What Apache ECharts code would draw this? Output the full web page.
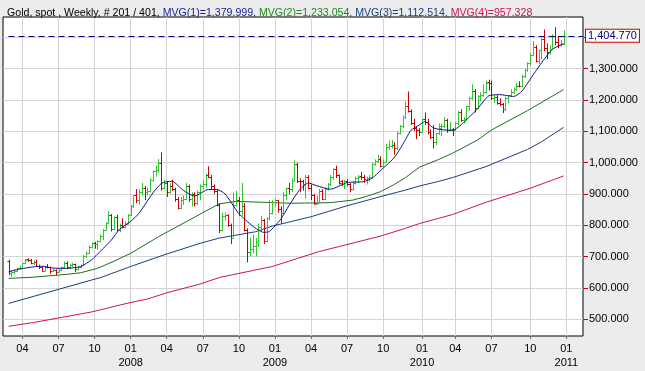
<!DOCTYPE html>
<html><head><meta charset="utf-8">
<script src="https://cdn.jsdelivr.net/npm/echarts@6/dist/echarts.min.js"></script>
<style>html,body{margin:0;padding:0;background:#ececec}#c{width:645px;height:371px}</style>
</head><body><div id="c"></div>
<script>
// Weekly OHLC, gold spot, first bar week of 2007-02-26
const opens = [
686,646,652,655,662,663,678,691,688,680,
683,670,665,655,667,665,654,656,650,658,
665,680,665,672,675,660,668,673,700,712,
730,743,740,750,765,785,806,833,787,825,
785,800,795,805,834,860,895,880,905,920,
905,910,945,972,975,1000,920,935,905,925,
915,885,855,880,885,925,885,900,870,905,
925,930,960,955,925,910,865,785,828,832,
800,760,865,880,845,860,785,715,725,735,
745,795,815,750,823,840,875,880,853,840,
897,920,915,940,995,942,940,930,955,920,
897,868,872,910,885,915,930,955,980,960,
940,932,940,930,915,935,950,957,954,948,
952,955,995,1006,1010,990,1003,1050,1052,1057,
1045,1095,1118,1145,1180,1165,1125,1110,1105,1097,
1138,1131,1097,1083,1065,1093,1110,1118,1135,1103,
1108,1104,1125,1160,1135,1140,1180,1205,1230,1175,
1212,1215,1225,1258,1254,1207,1210,1190,1188,1170,
1205,1215,1227,1235,1246,1245,1275,1296,1318,1345,
1370,1325,1358,1395,1366,1352,1362,1405,1385,1377,
1380];
const highs = [
690,657,660,665,670,680,692,694,692,688,
690,674,668,670,676,668,661,659,660,667,
684,685,675,680,677,670,675,705,716,735,
745,747,752,770,788,810,845,836,828,833,
805,822,812,836,865,895,915,915,935,925,
920,950,975,990,1011,1032,945,940,935,945,
920,890,890,895,935,930,905,905,910,930,
945,965,988,960,930,915,870,840,840,835,
805,905,910,890,935,870,790,760,770,760,
805,830,820,825,880,880,885,880,860,905,
920,935,950,1007,1000,950,945,960,960,930,
900,895,915,915,920,935,960,982,990,962,
945,945,947,935,940,955,960,970,960,955,
960,1000,1010,1025,1020,1010,1060,1070,1072,1065,
1100,1120,1150,1195,1227,1170,1140,1115,1110,1140,
1160,1140,1105,1120,1095,1125,1125,1145,1140,1130,
1110,1130,1165,1170,1145,1180,1210,1250,1235,1215,
1225,1250,1262,1265,1262,1215,1215,1205,1190,1210,
1215,1235,1240,1255,1260,1280,1300,1320,1350,1388,
1375,1360,1398,1425,1380,1375,1410,1432,1405,1392,
1422];
const lows = [
640,636,643,650,658,660,675,682,675,673,
668,660,652,653,662,645,650,640,648,655,
663,660,660,666,650,655,662,670,695,708,
725,725,722,745,752,783,803,780,785,780,
778,790,790,803,830,855,870,865,895,880,
895,905,940,955,968,910,915,890,900,910,
875,850,852,865,880,875,860,860,865,880,
915,920,950,915,900,860,775,780,815,795,
740,760,860,830,830,780,681,700,710,700,
730,780,740,745,815,835,860,840,805,835,
880,900,905,940,935,905,910,885,915,880,
865,865,870,880,880,910,925,945,950,930,
925,915,925,905,910,930,935,945,935,930,
940,950,990,1000,985,985,1000,1040,1045,1025,
1040,1090,1110,1140,1160,1120,1100,1075,1085,1095,
1120,1090,1075,1045,1055,1088,1085,1110,1095,1100,
1085,1100,1120,1130,1125,1135,1165,1200,1160,1170,
1195,1210,1220,1230,1200,1190,1185,1180,1158,1165,
1190,1210,1220,1230,1240,1240,1270,1290,1310,1340,
1320,1315,1330,1355,1330,1345,1360,1375,1365,1370,
1375];
const closes = [
646,652,655,662,663,678,690,688,680,683,
670,665,655,667,665,655,656,650,658,665,
680,665,672,675,660,668,673,700,712,730,
743,740,750,765,785,806,833,787,825,785,
800,795,805,834,860,895,880,905,920,905,
910,945,972,975,1000,920,935,905,925,915,
885,855,880,885,925,885,900,870,905,925,
930,960,955,925,910,865,785,830,832,800,
760,865,880,845,860,785,715,725,735,745,
795,815,750,823,840,875,880,853,840,897,
920,915,940,995,942,940,930,955,920,897,
870,872,910,885,915,930,955,980,960,935,
932,940,930,915,935,950,955,954,948,952,
955,995,1006,1010,990,1003,1050,1052,1057,1045,
1095,1118,1145,1180,1165,1125,1110,1105,1097,1138,
1131,1097,1083,1065,1093,1118,1118,1135,1103,1105,
1104,1125,1160,1135,1140,1180,1205,1230,1175,1212,
1215,1225,1255,1254,1207,1210,1190,1188,1170,1205,
1215,1227,1235,1246,1245,1275,1296,1318,1345,1370,
1325,1358,1395,1366,1352,1362,1405,1385,1377,1380,
1404.77];

// Moving averages: [bar index, value]
const mvg1 = [[0,651],[4,660],[9,667],[12,669],[16,663],[21,662],[26,668],[30,690],[33,716],[37,752],[40,787],[44,812],[47,838],[52,903],[55,933],[57,939],[59,940],[63,911],[67,893],[72,914],[75,914],[78,900],[83,837],[88,797],[92,777],[94,780],[98,818],[101,862],[105,914],[108,935],[111,926],[116,915],[122,936],[128,939],[131,950],[133,966],[139,1016],[142,1057],[145,1103],[148,1120],[150,1131],[153,1111],[156,1105],[160,1103],[164,1128],[169,1172],[173,1213],[177,1217],[182,1211],[185,1228],[189,1280],[193,1330],[196,1362],[200,1380]];
const mvg2 = [[0,630],[9,634],[21,643],[26,648],[32,662],[38,685],[44,710],[54,763],[64,811],[70,840],[74,859],[76,868],[82,876],[92,873],[102,870],[116,872],[124,880],[129,892],[134,907],[139,930],[143,952],[148,985],[155,1010],[160,1030],[169,1072],[174,1104],[187,1166],[200,1233]];
const mvg3 = [[0,550],[30,625],[33,632],[44,668],[56,705],[69,742],[76,759],[89,779],[95,797],[109,827],[122,862],[136,896],[143,912],[148,925],[155,940],[160,952],[172,987],[187,1042],[192,1066],[200,1112.5]];
const mvg4 = [[0,477],[9,489],[30,523],[43,551],[50,564],[57,584],[69,612],[76,633],[95,668],[112,716],[134,765],[143,790],[148,805],[155,822],[160,834],[172,873],[188,918],[200,957.3]];

const lastPrice = 1404.77;
const titleParts = ['Gold, spot , Weekly, # 201 / 401, ', 'MVG(1)=1,379.999, ', 'MVG(2)=1,233.054, ', 'MVG(3)=1,112.514, ', 'MVG(4)=957.328'];
const yTicks = [500,600,700,800,900,1000,1100,1200,1300,1400];
const yLabels = [500,600,700,800,900,1000,1100,1200,1300];

const colUp = '#33c433', colDown = '#c80000';
const colM1 = '#10108c', colM2 = '#1e6e1e', colM3 = '#1c3f7c', colM4 = '#cc1450';

// weekly category axis (2 empty weeks before, 7 after)
const lead = 2, trail = 7;
const startMs = Date.UTC(2007,1,12);
const categories = [];
for (let i = 0; i < lead + opens.length + trail; i++) {
  categories.push(new Date(startMs + i*7*864e5).toISOString().slice(0,10));
}
function quarterStart(s){
  const t = Date.parse(s), d = new Date(t);
  for (const off of [-1,0,1]) {
    const f = Date.UTC(d.getUTCFullYear(), d.getUTCMonth()+off, 1);
    const fd = new Date(f);
    if (fd.getUTCMonth()%3===0 && Math.abs(t-f) <= 3*864e5) return fd;
  }
  return null;
}
const isQ = (i, v) => quarterStart(v) !== null;
function fmtNum(v){
  const s = v.toFixed(3); const [a,b] = s.split('.');
  return a.replace(/\B(?=(\d{3})+(?!\d))/g, ',') + '.' + b;
}

const ohlc = opens.map((o,i) => [i+lead, o, highs[i], lows[i], closes[i]]);
const toLine = arr => arr.map(p => [categories[p[0]+lead], p[1]]);

const FONT = "'Liberation Sans', Arial, sans-serif";
const TF = 10.6;
const chart = echarts.init(document.getElementById('c'), null, {renderer:'canvas'});
chart.setOption({
  animation:false,
  backgroundColor:'#ececec',
  title:{
    left:2, top:3,
    text: '{a|'+titleParts[0]+'}{b|'+titleParts[1]+'}{c|'+titleParts[2]+'}{d|'+titleParts[3]+'}{e|'+titleParts[4]+'}',
    textStyle:{fontSize:TF, fontFamily:FONT, fontWeight:'normal',
      rich:{a:{color:'#000',fontSize:TF,fontFamily:FONT},b:{color:'#1a1aa0',fontSize:TF,fontFamily:FONT},
        c:{color:'#1e8a1e',fontSize:TF,fontFamily:FONT},d:{color:'#1c3f7c',fontSize:TF,fontFamily:FONT},
        e:{color:'#cc1450',fontSize:TF,fontFamily:FONT}}}
  },
  grid:{left:3, right:62, top:17, bottom:35, show:true, backgroundColor:'#fff', borderColor:'#000', borderWidth:1},
  xAxis:{
    type:'category', data:categories, boundaryGap:false,
    axisLine:{show:false},
    axisTick:{show:true, interval:isQ, length:3, lineStyle:{color:'#666'}},
    axisLabel:{interval:isQ, color:'#000', fontSize:11, fontFamily:FONT, margin:6, lineHeight:14,
      formatter:v => { const fd = quarterStart(v); const m = String(fd.getUTCMonth()+1).padStart(2,'0');
        return m==='01' ? m+'\n'+fd.getUTCFullYear() : m; }},
    splitLine:{show:true, interval:isQ, lineStyle:{color:'#d4d4d4'}}
  },
  yAxis:{
    type:'value', position:'right', min:446, max:1465, scale:true,
    axisLine:{show:false},
    axisTick:{show:true, length:5, customValues:yTicks, lineStyle:{color:'#cc0000'}},
    axisLabel:{customValues:yLabels, color:'#000', fontSize:11, fontFamily:FONT, margin:6, formatter:v=>fmtNum(v)},
    splitLine:{show:true, lineStyle:{color:'#d4d4d4'}}
  },
  series:[
    {type:'line', data:toLine(mvg4), symbol:'none', lineStyle:{color:colM4,width:1}, z:2},
    {type:'line', data:toLine(mvg3), symbol:'none', lineStyle:{color:colM3,width:1}, z:2},
    {type:'line', data:toLine(mvg2), symbol:'none', lineStyle:{color:colM2,width:1}, z:2},
    {type:'custom', data:ohlc, encode:{x:0, y:[1,2,3,4]}, z:3,
      renderItem:function(params, api){
        const x = api.value(0), o = api.value(1), h = api.value(2), l = api.value(3), c = api.value(4);
        const pH = api.coord([x,h]), pL = api.coord([x,l]), pO = api.coord([x,o]), pC = api.coord([x,c]);
        const col = c >= o ? colUp : colDown;
        const px = Math.round(pH[0]) + 0.5;
        const yo = Math.round(pO[1]) + 0.5, yc = Math.round(pC[1]) + 0.5;
        const st = {stroke:col, lineWidth:1};
        return {type:'group', children:[
          {type:'line', shape:{x1:px, y1:pH[1], x2:px, y2:pL[1]}, style:st},
          {type:'line', shape:{x1:px-2, y1:yo, x2:px, y2:yo}, style:st},
          {type:'line', shape:{x1:px, y1:yc, x2:px+2, y2:yc}, style:st}
        ]};
      }},
    {type:'line', data:toLine(mvg1), symbol:'none', smooth:0.2, lineStyle:{color:colM1,width:1}, z:4,
      markLine:{silent:true, symbol:['none','none'], animation:false,
        lineStyle:{color:'#000080', type:[6,4], width:1},
        label:{show:true, position:'end', formatter:fmtNum(lastPrice), color:'#000080', fontSize:11, fontFamily:FONT,
          backgroundColor:'#fff', borderColor:'#cc0000', borderWidth:1, padding:[1,2,0,2], distance:3},
        data:[[{coord:[categories[lead], lastPrice]},{coord:[categories[categories.length-1], lastPrice]}]]}}
  ]
});
</script></body></html>
